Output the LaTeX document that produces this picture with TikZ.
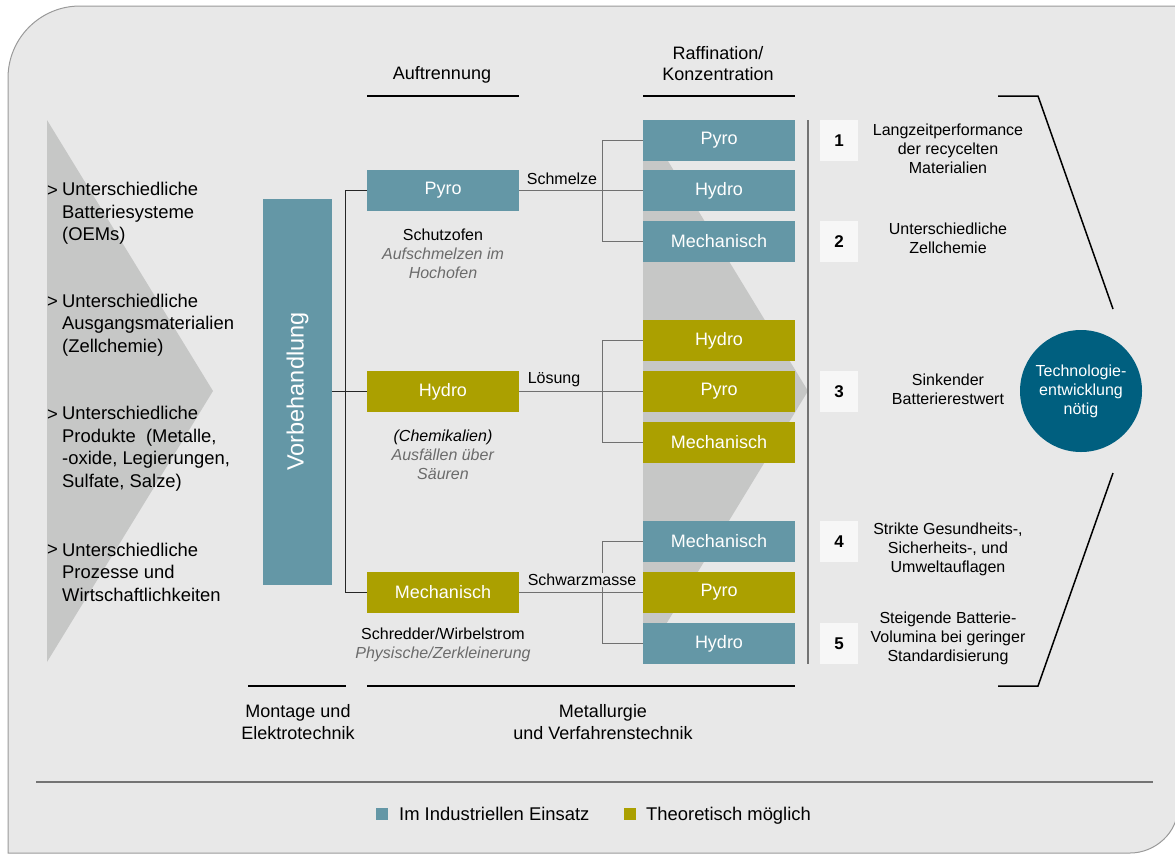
\documentclass[tikz,border=0pt]{standalone}
\usepackage{fontspec}
\setmainfont{Liberation Sans}
\definecolor{bgc}{HTML}{E8E8E8}
\definecolor{tealc}{HTML}{6497A6}
\definecolor{olivec}{HTML}{ABA000}
\definecolor{chevc}{HTML}{C6C7C6}
\definecolor{circc}{HTML}{005F7F}
\definecolor{numbg}{HTML}{F7F7F7}
\definecolor{graytxt}{HTML}{6B6B6B}
\definecolor{linegray}{HTML}{707070}
\definecolor{borderc}{HTML}{9A9A9A}
\begin{document}
\begin{tikzpicture}[x=1pt,y=-1pt,
  box/.style={minimum width=152pt, minimum height=41pt, inner sep=0pt, text=white, font=\fontsize{18}{21}\selectfont},
  tbox/.style={box, fill=tealc},
  obox/.style={box, fill=olivec},
  numbox/.style={fill=numbg, minimum width=38pt, minimum height=41pt, inner sep=0pt, font=\bfseries\fontsize{17}{20}\selectfont},
  rtext/.style={align=center, font=\fontsize{16}{19}\selectfont, inner sep=0pt},
  sub/.style={align=center, font=\fontsize{16}{19}\selectfont, inner sep=0pt},
  ltext/.style={align=left, font=\fontsize{18.4}{22.5}\selectfont, inner sep=0pt, anchor=west},
  head/.style={align=center, font=\fontsize{18}{21.5}\selectfont, inner sep=0pt},
  conn/.style={draw=linegray, line width=1pt},
  lconn/.style={draw=black!85, line width=1pt},
  rule/.style={draw=black, line width=1.5pt},
  flab/.style={font=\fontsize{16}{19}\selectfont, inner sep=1.5pt, fill=bgc},
  legtext/.style={anchor=base west, inner sep=0pt, font=\fontsize{18.4}{21}\selectfont}
]
\useasboundingbox (0,0) rectangle (1175,855);
% background panel
\filldraw[fill=bgc, draw=borderc, line width=1pt]
  (8,853) -- (8,78) .. controls (8,38.2) and (40.2,6) .. (80,6) -- (1178,6)
  -- (1178,807) .. controls (1178,832.4) and (1155.4,853) .. (1130,853) -- cycle;
% chevrons
\fill[chevc] (47,120) -- (213,391) -- (47,662) -- cycle;
\fill[chevc] (643,120) -- (808,391) -- (643,662) -- cycle;

% headers
\node[head] (hA) at (442,75) {Auftrennung};
\node[head] (hR) at (718,63.5) {Raffination/\\Konzentration};
\coordinate (a1) at (367,96); \coordinate (a2) at (519,96);
\coordinate (r1) at (643,96); \coordinate (r2) at (795,96);
\draw[rule] (a1) -- (a2);
\draw[rule] (r1) -- (r2);
\coordinate (m1) at (248,686); \coordinate (m2) at (346,686);
\coordinate (v1) at (367,686); \coordinate (v2) at (795,686);
\draw[rule] (m1) -- (m2);
\draw[rule] (v1) -- (v2);

% left list
\node[ltext] (g1) at (47,191) {>};
\node[ltext] (t1) at (62,213.5) {Unterschiedliche\\Batteriesysteme\\(OEMs)};
\node[ltext] (g2) at (47,302) {>};
\node[ltext] (t2) at (62,325) {Unterschiedliche\\Ausgangsmaterialien\\(Zellchemie)};
\node[ltext] (g3) at (47,415) {>};
\node[ltext] (t3) at (62,448.5) {Unterschiedliche\\Produkte\ \ (Metalle,\\-oxide, Legierungen,\\Sulfate, Salze)};
\node[ltext] (g4) at (47,550) {>};
\node[ltext] (t4) at (62,572) {Unterschiedliche\\Prozesse und\\Wirtschaftlichkeiten};

% Vorbehandlung
\node[fill=tealc, minimum width=69pt, minimum height=386pt, inner sep=0pt] (vb) at (297.5,391.5) {};
\node[rotate=90, text=white, font=\fontsize{23.5}{26}\selectfont, inner sep=0pt] (vbt) at (vb.center) {Vorbehandlung};

% left boxes
\node[tbox] (lp) at (443,190.5) {Pyro};
\node[obox] (lh) at (443,391.5) {Hydro};
\node[obox] (lm) at (443,592.5) {Mechanisch};

% right boxes
\node[tbox] (p1) at (719,140.5) {Pyro};
\node[tbox] (p2) at (719,190.5) {Hydro};
\node[tbox] (p3) at (719,241.5) {Mechanisch};
\node[obox] (h1) at (719,340.5) {Hydro};
\node[obox] (h2) at (719,391.5) {Pyro};
\node[obox] (h3) at (719,442.5) {Mechanisch};
\node[tbox] (k1) at (719,541.5) {Mechanisch};
\node[obox] (k2) at (719,592.5) {Pyro};
\node[tbox] (k3) at (719,643.5) {Hydro};

% connectors
\draw[lconn] (vb.east |- lh.west) -- (lh.west);
\draw[lconn] (lp.west) -- ++(-21,0) |- (lm.west);
\draw[conn] (lp.east) -- (p2.west);
\draw[conn] (p1.west) -- ++(-40,0) |- (p3.west);
\draw[conn] (lh.east) -- (h2.west);
\draw[conn] (h1.west) -- ++(-40,0) |- (h3.west);
\draw[conn] (lm.east) -- (k2.west);
\draw[conn] (k1.west) -- ++(-40,0) |- (k3.west);
\node[flab, fill=none] (s1) at (562,179) {Schmelze};
\node[flab, fill=none] (s2) at (554,380) {Lösung};
\node[flab] (s3) at (582,580) {Schwarzmasse};

% sub labels
\node[sub] (d1) at (443,254) {Schutzofen\\\textcolor{graytxt}{\textit{Aufschmelzen im}}\\\textcolor{graytxt}{\textit{Hochofen}}};
\node[sub] (d2) at (443,455) {\textit{(Chemikalien)}\\\textcolor{graytxt}{\textit{Ausfällen über}}\\\textcolor{graytxt}{\textit{Säuren}}};
\node[sub] (d3) at (443,645) {Schredder/Wirbelstrom\\\textcolor{graytxt}{\textit{Physische/Zerkleinerung}}};

% vertical divider
\coordinate (dv1) at (808,120); \coordinate (dv2) at (808,664);
\draw[draw=black!55, line width=1.5pt] (dv1) -- (dv2);

% numbered items
\node[numbox] (n1) at (839,140.5) {1};
\node[numbox] (n2) at (839,241.5) {2};
\node[numbox] (n3) at (839,391.5) {3};
\node[numbox] (n4) at (839,541.5) {4};
\node[numbox] (n5) at (839,643.5) {5};
\node[rtext] (x1) at (948,149) {Langzeitperformance\\der recycelten\\Materialien};
\node[rtext] (x2) at (948,238.5) {Unterschiedliche\\Zellchemie};
\node[rtext] (x3) at (948,389.5) {Sinkender\\Batterierestwert};
\node[rtext] (x4) at (948,549) {Strikte Gesundheits-,\\Sicherheits-, und\\Umweltauflagen};
\node[rtext] (x5) at (948,638) {Steigende Batterie-\\Volumina bei geringer\\Standardisierung};

% bracket
\coordinate (b1) at (998,96); \coordinate (b2) at (1038,96); \coordinate (b3) at (1113,309);
\coordinate (b4) at (1113,473); \coordinate (b5) at (1038,686); \coordinate (b6) at (998,686);
\draw[black, line width=1.5pt] (b1) -- (b2) -- (b3);
\draw[black, line width=1.5pt] (b4) -- (b5) -- (b6);

% circle
\node[circle, fill=circc, minimum size=122pt, inner sep=0pt, text=white, align=center, font=\fontsize{16}{19}\selectfont] (tc) at (1081,391) {Technologie-\\entwicklung\\nötig};

% bottom labels
\node[head, font=\fontsize{18}{22}\selectfont] (bm) at (298,722) {Montage und\\Elektrotechnik};
\node[head, font=\fontsize{18}{22}\selectfont] (bv) at (603,722) {Metallurgie\\und Verfahrenstechnik};

% separator
\coordinate (sp1) at (36,782); \coordinate (sp2) at (1153,782);
\draw[draw=black!55, line width=2pt] (sp1) -- (sp2);

% legend
\node[fill=tealc, minimum width=12pt, minimum height=12pt, inner sep=0pt] (lg1) at (382,813.5) {};
\node[legtext] (lt1) at (399,820) {Im Industriellen Einsatz};
\node[fill=olivec, minimum width=12pt, minimum height=12pt, inner sep=0pt] (lg2) at (629.5,813.5) {};
\node[legtext] (lt2) at (646,820) {Theoretisch möglich};
\end{tikzpicture}
\end{document}
